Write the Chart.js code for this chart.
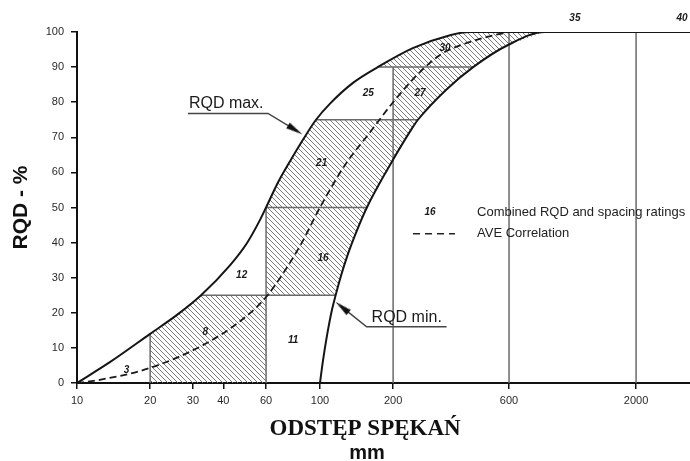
<!DOCTYPE html>
<html>
<head>
<meta charset="utf-8">
<style>
html,body{margin:0;padding:0;background:#fff;}
canvas{display:block;}
</style>
<script src="https://cdn.jsdelivr.net/npm/chart.js@4.4.1/dist/chart.umd.min.js"></script>
</head>
<body>
<canvas id="c" width="690" height="461"></canvas>
<script>
// ---------- data ----------
const X_MIN = 10;
const X_MAX = 3334;
const xTickValues = [10, 20, 30, 40, 60, 100, 200, 600, 2000];
const yTickValues = [0, 10, 20, 30, 40, 50, 60, 70, 80, 90, 100];

// RQD max. curve (spacing mm, RQD %)
const rqdMaxX = [10, 13.7, 20, 25.8, 32.4, 42.7, 50.1, 56.6, 60, 67, 75.3, 85.1, 96.3, 110, 136.7, 173, 241, 343, 414];
const rqdMaxY = [0, 6.0, 14, 19.4, 25, 33.6, 39.9, 46.4, 50, 57, 63.2, 69.3, 75, 79.6, 85.5, 90, 95.4, 99.1, 100];

// RQD min. curve
const rqdMinX = [100, 103, 107, 112, 116, 122, 130, 142, 156, 189, 241, 253, 330, 427, 594, 843];
const rqdMinY = [0, 6.6, 13.7, 20.8, 25, 30.5, 36.5, 43.5, 50, 60.7, 72.9, 75, 83.5, 90, 96.3, 100];

// AVE correlation (dashed)
const aveX = [10, 12.4, 20, 33, 46.9, 60, 82.7, 100, 126.8, 161, 200, 258, 311, 353, 487, 600];
const aveY = [0, 0.9, 4.3, 10.8, 17.6, 24.5, 39, 50, 62.1, 71.5, 80, 88.6, 93.4, 95.4, 98.6, 100];

// vertical box / reference lines
const gridLineX = [20, 60, 200, 600, 2000];
const gridLineTop = [14, 50, 90, 100, 100];
// horizontal box lines (RQD %), between the two curves
const boxLineY = [25, 50, 75, 90];

// combined rating labels
const ratingLabels = ['3', '8', '11', '12', '16', '21', '25', '27', '30', '35', '40'];
const ratingX = [16, 33.7, 77.6, 47.6, 103, 101.6, 158, 258, 327, 1120, 3090];
const ratingY = [3.7, 14.6, 12.3, 30.8, 35.5, 62.6, 82.5, 82.5, 95.4, 104, 104];

// leader lines for curve labels
const maxLeaderX = [28.6, 61.1, 79.1];
const maxLeaderY = [76.8, 76.8, 72.1];
const minLeaderX = [332, 155.6, 123.3];
const minLeaderY = [16, 16, 21.6];
const arrowX = [79.1, 123.3];
const arrowY = [72.1, 21.6];

// legend sample (dashed)
const legendDashX = [241.5, 359.5];
const legendDashY = [42.5, 42.5];
const legendTextX = 443;
const legendRowY = [48.7, 42.7];
const legendMarkX = 284;

// ---------- helpers ----------
const pts = (xs, ys) => xs.map((x, i) => ({x: x, y: ys[i]}));
const maxPts = pts(rqdMaxX, rqdMaxY);
const minPts = pts(rqdMinX, rqdMinY);
const seg = (p, y0, y1) => p.filter(q => q.y >= y0 && q.y <= y1);
const xAt = (p, y) => p.find(q => q.y === y).x;

const region8 = [{x: 20, y: 0}, ...seg(maxPts, 14, 25), {x: 60, y: 25}, {x: 60, y: 0}, {x: 20, y: 0}];
const region16 = [{x: 60, y: 25}, {x: 60, y: 50}, ...seg(minPts, 25, 50).reverse(), {x: 60, y: 25}];
const region21 = [...seg(maxPts, 50, 75), ...seg(minPts, 50, 75).reverse()];
region21.push(region21[0]);
const region27 = [{x: 200, y: 75}, {x: 200, y: 90}, ...seg(minPts, 75, 90).reverse(), {x: 200, y: 75}];
const region30 = [...seg(maxPts, 90, 100), ...seg(minPts, 90, 100).reverse()];
region30.push(region30[0]);

const canvas = document.getElementById('c');
const ctx0 = canvas.getContext('2d');

function makeHatch() {
  const s = 5;
  const c = document.createElement('canvas');
  c.width = s; c.height = s;
  const g = c.getContext('2d');
  g.strokeStyle = '#7a7a7a';
  g.lineWidth = 1;
  g.beginPath();
  g.moveTo(-1, -1); g.lineTo(s + 1, s + 1);
  g.moveTo(-1, s - 1); g.lineTo(1, s + 1);
  g.moveTo(s - 1, -1); g.lineTo(s + 1, 1);
  g.stroke();
  return ctx0.createPattern(c, 'repeat');
}
function makeArrow() {
  const c = document.createElement('canvas');
  c.width = 7; c.height = 17;
  const g = c.getContext('2d');
  g.fillStyle = '#111';
  g.beginPath();
  g.moveTo(3.5, 0); g.lineTo(6.8, 17); g.lineTo(0.2, 17);
  g.closePath(); g.fill();
  return c;
}
const hatch = makeHatch();
const arrowImg = makeArrow();

const datasets = [];
// main curves
datasets.push({label: 'RQD max.', data: [...maxPts, {x: X_MAX, y: 100}], borderColor: '#151515', borderWidth: 2, cubicInterpolationMode: 'monotone', order: 1});
datasets.push({label: 'RQD min.', data: [...minPts, {x: X_MAX, y: 100}], borderColor: '#151515', borderWidth: 2, cubicInterpolationMode: 'monotone', order: 1});
datasets.push({label: 'AVE Correlation', data: pts(aveX, aveY), borderColor: '#1a1a1a', borderWidth: 1.8, borderDash: [7, 4], cubicInterpolationMode: 'monotone', order: 1});
// vertical lines
gridLineX.forEach((xv, i) => {
  datasets.push({label: 'v' + xv, data: [{x: xv, y: 0}, {x: xv, y: gridLineTop[i]}], borderColor: '#6a6a6a', borderWidth: 1.5, order: 5});
});
// horizontal box lines
boxLineY.forEach(yv => {
  datasets.push({label: 'h' + yv, data: [{x: xAt(maxPts, yv), y: yv}, {x: xAt(minPts, yv), y: yv}], borderColor: '#6a6a6a', borderWidth: 1.5, order: 5});
});
// hatched regions
[region8, region16, region21, region27, region30].forEach((r, i) => {
  datasets.push({label: 'region' + i, data: r, borderWidth: 0, borderColor: 'rgba(0,0,0,0)', backgroundColor: hatch, fill: 'shape', order: 10});
});
// leaders
datasets.push({label: 'maxLeader', data: pts(maxLeaderX, maxLeaderY), borderColor: '#444', borderWidth: 1.5, order: 2});
datasets.push({label: 'minLeader', data: pts(minLeaderX, minLeaderY), borderColor: '#444', borderWidth: 1.5, order: 2});
datasets.push({label: 'arrows', data: pts(arrowX, arrowY), showLine: false, pointRadius: 8, pointStyle: arrowImg, pointRotation: [121.7, 309.3], clip: false, order: 0});
// legend dashed sample
datasets.push({label: 'legendDash', data: pts(legendDashX, legendDashY), borderColor: '#222', borderWidth: 1.5, borderDash: [7, 5], order: 2});

datasets.forEach(d => {
  d.showLine = d.showLine !== false;
  if (d.pointRadius === undefined) d.pointRadius = 0;
  if (d.fill === undefined) d.fill = false;
});

const SANS = '"Liberation Sans", Arial, sans-serif';
Chart.defaults.font.family = SANS;

const textPlugin = {
  id: 'texts',
  afterDraw(chart) {
    const {ctx, chartArea} = chart;
    const x = chart.scales.x, y = chart.scales.y;
    const px = v => x.getPixelForValue(v);
    const py = v => y.getPixelForValue(v);
    ctx.save();
    ctx.fillStyle = '#1a1a1a';
    // rating numbers
    ctx.font = 'italic bold 10px ' + SANS;
    ctx.textAlign = 'center';
    ctx.textBaseline = 'middle';
    ratingLabels.forEach((t, i) => ctx.fillText(t, px(ratingX[i]), py(ratingY[i])));
    // legend
    ctx.fillText('16', px(legendMarkX), py(legendRowY[0]));
    ctx.font = '13px ' + SANS;
    ctx.textAlign = 'left';
    ctx.fillStyle = '#222';
    ctx.fillText('Combined RQD and spacing ratings', px(legendTextX), py(legendRowY[0]));
    ctx.fillText('AVE Correlation', px(legendTextX), py(legendRowY[1]));
    // curve labels
    ctx.font = '16px ' + SANS;
    ctx.textBaseline = 'alphabetic';
    ctx.fillStyle = '#1a1a1a';
    ctx.fillText('RQD max.', px(maxLeaderX[0]) + 1, py(maxLeaderY[0]) - 5);
    ctx.fillText('RQD min.', px(minLeaderX[1]) + 5, py(minLeaderY[1]) - 5);
    // x-axis title
    const cx = chartArea.left + (chartArea.right - chartArea.left) * 0.47;
    ctx.textAlign = 'center';
    ctx.fillStyle = '#111';
    ctx.font = 'bold 23px "Liberation Serif", "Times New Roman", serif';
    ctx.fillText('ODSTĘP SPĘKAŃ', cx, chartArea.bottom + 52);
    ctx.font = 'bold 20px ' + SANS;
    ctx.fillText('mm', cx + 2, chartArea.bottom + 76);
    ctx.restore();
  }
};

new Chart(canvas, {
  type: 'scatter',
  data: {datasets: datasets},
  plugins: [textPlugin],
  options: {
    responsive: false,
    animation: false,
    events: [],
    devicePixelRatio: 1,
    layout: {autoPadding: false, padding: {top: 32, right: 0, left: 0, bottom: 0}},
    plugins: {legend: {display: false}, tooltip: {enabled: false}},
    scales: {
      x: {
        type: 'logarithmic',
        min: X_MIN,
        max: X_MAX,
        afterBuildTicks: axis => { axis.ticks = xTickValues.map(v => ({value: v})); },
        afterFit: axis => { axis.height = 78; axis.paddingLeft = 0; axis.paddingRight = 0; },
        ticks: {callback: v => String(v), autoSkip: false, maxRotation: 0, padding: 5, color: '#2a2a2a', font: {size: 11}},
        grid: {drawOnChartArea: false, drawTicks: true, tickLength: 6, color: '#111', lineWidth: 1.5},
        border: {display: true, color: '#111', width: 2}
      },
      y: {
        type: 'linear',
        min: 0,
        max: 100,
        afterBuildTicks: axis => { axis.ticks = yTickValues.map(v => ({value: v})); },
        afterFit: axis => { axis.width = 77; axis.paddingTop = 0; axis.paddingBottom = 0; },
        ticks: {padding: 7, color: '#2a2a2a', font: {size: 11}},
        grid: {drawOnChartArea: false, drawTicks: true, tickLength: 6, color: '#111', lineWidth: 1.5},
        border: {display: true, color: '#111', width: 2},
        title: {display: true, text: 'RQD - %', color: '#111', font: {size: 21, weight: 'bold'}, padding: {top: 9, bottom: 0}}
      }
    }
  }
});
</script>
</body>
</html>
